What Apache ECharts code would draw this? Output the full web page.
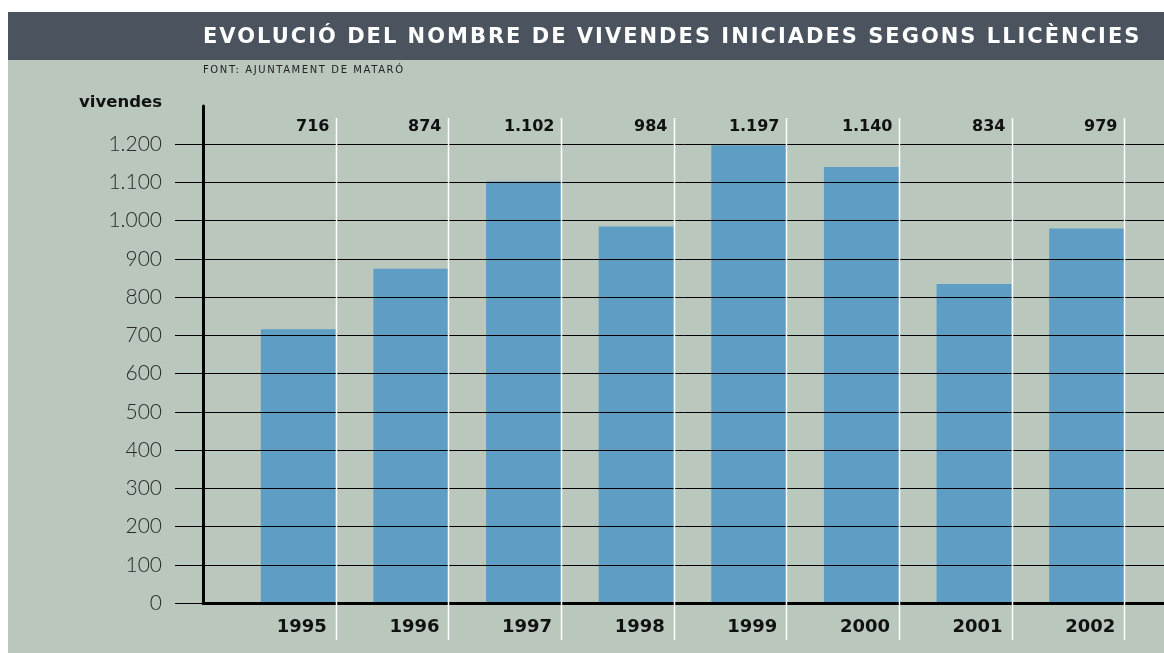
<!DOCTYPE html>
<html>
<head>
<meta charset="utf-8">
<script src="https://cdn.jsdelivr.net/npm/echarts@6/dist/echarts.min.js"></script>
<style>
html,body{margin:0;padding:0;background:#fff;}
#chart{width:1164px;height:653px;}
</style>
</head>
<body>
<div id="chart"></div>
<script>
const titleText = 'EVOLUCIÓ DEL NOMBRE DE VIVENDES INICIADES SEGONS LLICÈNCIES';
const sourceText = 'FONT: AJUNTAMENT DE MATARÓ';
const yName = 'vivendes';
const years = ['1995', '1996', '1997', '1998', '1999', '2000', '2001', '2002'];
const values = [716, 874, 1102, 984, 1197, 1140, 834, 979];
const yMin = 0;
const yMax = 1200;
const yStep = 100;

// letter spacing for the spaced-out header texts (canvas letterSpacing)
const spacedTexts = {};
spacedTexts[titleText] = '2px';
spacedTexts[sourceText] = '1.6px';
(function () {
  const proto = CanvasRenderingContext2D.prototype;
  if (!('letterSpacing' in proto)) return;
  const orig = proto.fillText;
  proto.fillText = function (text, x, y, maxW) {
    this.letterSpacing = spacedTexts[text] || '0px';
    const r = maxW === undefined ? orig.call(this, text, x, y) : orig.call(this, text, x, y, maxW);
    this.letterSpacing = '0px';
    return r;
  };
})();

function fmt(v) {
  v = Math.round(v);
  if (v >= 1000) {
    return Math.floor(v / 1000) + '.' + String(v % 1000).padStart(3, '0');
  }
  return String(v);
}

const chart = echarts.init(document.getElementById('chart'), null, { renderer: 'canvas' });

const BAR_W = 75;

const option = {
  backgroundColor: '#ffffff',
  animation: false,
  graphic: [
    { type: 'rect', z: -10, silent: true, shape: { x: 8, y: 12, width: 1156, height: 48 }, style: { fill: '#4a535e' } },
    { type: 'rect', z: -10, silent: true, shape: { x: 8, y: 60, width: 1156, height: 593 }, style: { fill: '#b9c7bc' } }
  ],
  title: [
    {
      text: titleText,
      left: 203,
      top: 27,
      padding: 0,
      textStyle: { color: '#ffffff', fontFamily: 'DejaVu Sans', fontWeight: 'bold', fontSize: 21 }
    },
    {
      text: sourceText,
      left: 203,
      top: 65,
      padding: 0,
      textStyle: { color: '#222', fontFamily: 'DejaVu Sans', fontWeight: 'normal', fontSize: 10 }
    }
  ],
  grid: [
    { left: 242, right: 21, top: 144, bottom: 50 },
    { left: 203, right: 0, top: 144, bottom: 50 },
    { left: 203, right: 0, top: 106, bottom: 50 }
  ],
  xAxis: [
    {
      gridIndex: 0, type: 'category', data: years,
      axisLine: { show: false }, axisTick: { show: false }, splitLine: { show: false },
      axisLabel: { margin: 15, padding: [0, 0, 0, 7], color: '#111', fontFamily: 'DejaVu Sans', fontWeight: 'bold', fontSize: 18 }
    },
    { gridIndex: 1, type: 'value', show: false, min: 0, max: 1 },
    {
      gridIndex: 2, type: 'value', min: 0, max: 1, z: 6,
      axisLine: { show: true, onZero: false, lineStyle: { color: '#000', width: 3 } },
      axisTick: { show: false }, axisLabel: { show: false }, splitLine: { show: false }
    }
  ],
  yAxis: [
    { gridIndex: 0, type: 'value', min: yMin, max: yMax, interval: yStep, show: false },
    {
      gridIndex: 1, type: 'value', min: yMin, max: yMax, interval: yStep, z: 5,
      name: yName, nameLocation: 'end', nameGap: 41,
      nameTextStyle: { align: 'right', verticalAlign: 'middle', padding: [0, 41, 0, 0], color: '#111', fontFamily: 'DejaVu Sans', fontWeight: 'bold', fontSize: 16.5 },
      axisLine: { show: false },
      axisTick: { show: true, inside: false, length: 28, lineStyle: { color: '#000', width: 1 } },
      splitLine: { show: true, lineStyle: { color: '#000', width: 1 } },
      axisLabel: { margin: 41, formatter: fmt, color: '#2a2a2a', fontFamily: 'Lato', fontWeight: 300, fontSize: 21, verticalAlign: 'middle', padding: [0, 0, 12, 0] }
    },
    {
      gridIndex: 2, type: 'value', min: 0, max: 1, z: 6,
      axisLine: { show: true, onZero: false, lineStyle: { color: '#000', width: 3 } },
      axisTick: { show: false }, axisLabel: { show: false }, splitLine: { show: false }
    }
  ],
  series: [
    {
      type: 'bar', xAxisIndex: 0, yAxisIndex: 0, z: 2,
      data: values, barWidth: BAR_W,
      itemStyle: { color: '#5e9ec5' },
      label: { show: false }
    },
    {
      type: 'custom', xAxisIndex: 0, yAxisIndex: 0, z: 7, clip: false,
      data: values.map((v, i) => [i, v]),
      encode: { x: 0, y: 1 },
      renderItem: function (params, api) {
        const i = api.value(0);
        const v = api.value(1);
        const top = api.coord([i, yMax]);
        const bot = api.coord([i, yMin]);
        const xr = Math.round(top[0] + BAR_W / 2) + 0.5;
        return {
          type: 'group',
          children: [
            { type: 'line', shape: { x1: xr, y1: top[1] - 26, x2: xr, y2: bot[1] + 37 }, style: { stroke: '#ffffff', lineWidth: 1.5 } },
            { type: 'text', style: { x: xr - 7, y: top[1] - 17, text: fmt(v), align: 'right', verticalAlign: 'middle', fill: '#111', font: 'bold 16px "DejaVu Sans"' } }
          ]
        };
      }
    }
  ]
};

chart.setOption(option);
</script>
</body>
</html>
